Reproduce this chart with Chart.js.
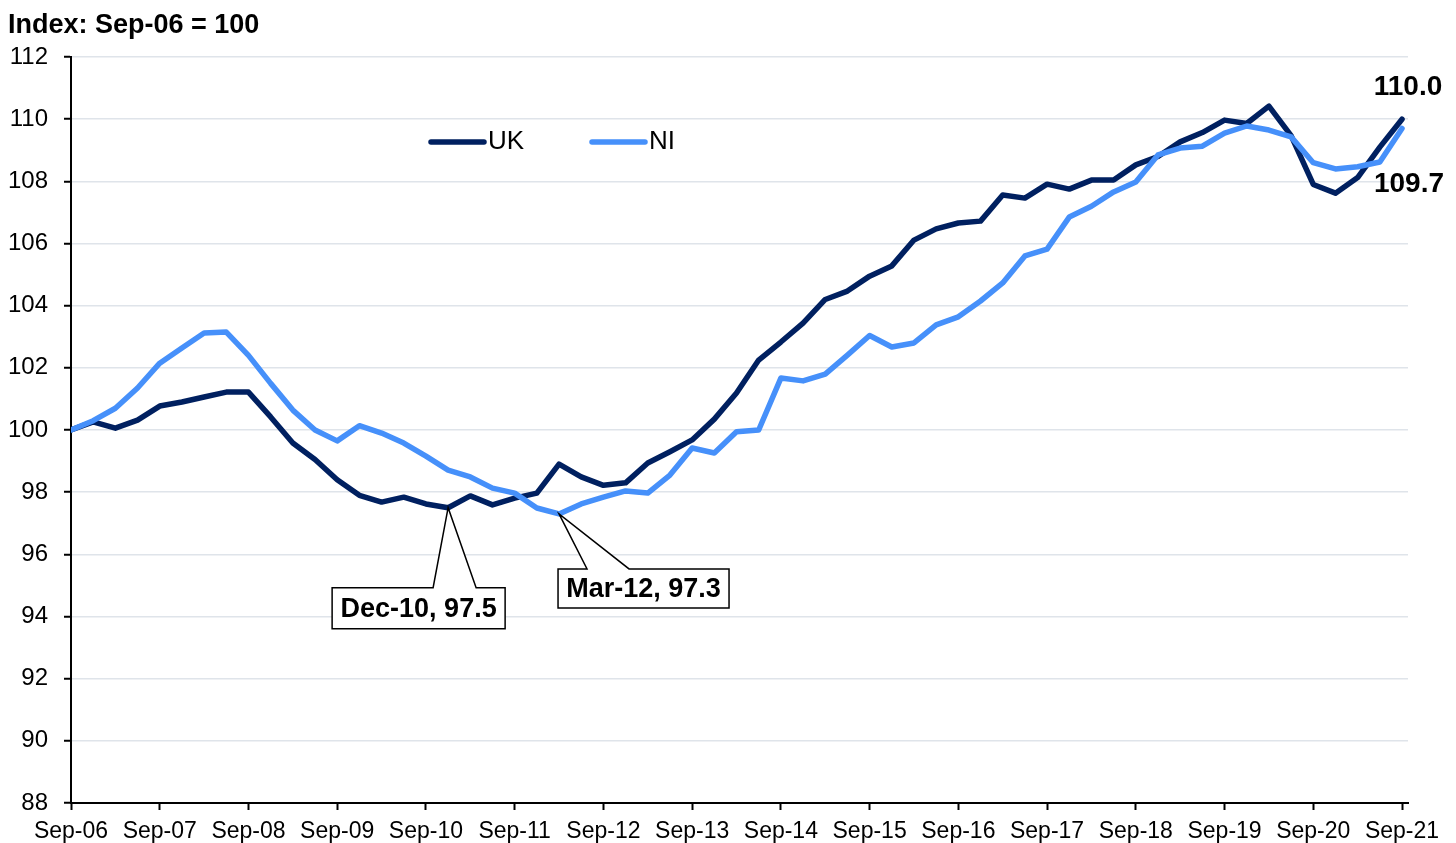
<!DOCTYPE html>
<html>
<head>
<meta charset="utf-8">
<script src="https://cdn.jsdelivr.net/npm/chart.js@4.4.1/dist/chart.umd.min.js"></script>
<style>
  html, body { margin: 0; padding: 0; background: #fff; }
  #wrap { width: 1456px; height: 843px; position: relative; }
</style>
</head>
<body>
<div id="wrap"><canvas id="myChart"></canvas></div>
<script>
// tick labels on the x axis, one per year (every 4th quarter)
var years = ['Sep-06', 'Sep-07', 'Sep-08', 'Sep-09', 'Sep-10', 'Sep-11', 'Sep-12', 'Sep-13',
             'Sep-14', 'Sep-15', 'Sep-16', 'Sep-17', 'Sep-18', 'Sep-19', 'Sep-20', 'Sep-21'];

// quarterly index, Sep-06 = 100
var ukIndex = [100.0, 100.26, 100.06, 100.32, 100.77, 100.9, 101.06, 101.22, 101.22, 100.42,
               99.58, 99.05, 98.4, 97.9, 97.68, 97.84, 97.62, 97.5, 97.88, 97.59,
               97.81, 97.97, 98.9, 98.49, 98.22, 98.3, 98.94, 99.3, 99.68, 100.35,
               101.19, 102.25, 102.83, 103.44, 104.2, 104.47, 104.95, 105.28, 106.11, 106.47,
               106.66, 106.72, 107.56, 107.46, 107.91, 107.75, 108.04, 108.04, 108.53, 108.8,
               109.27, 109.57, 109.97, 109.86, 110.42, 109.47, 107.9, 107.62, 108.12, 109.1,
               110.0];
var niIndex = [100.0, 100.3, 100.7, 101.35, 102.15, 102.64, 103.12, 103.15, 102.4, 101.5,
               100.64, 100.0, 99.65, 100.14, 99.9, 99.58, 99.16, 98.71, 98.49, 98.13,
               97.97, 97.49, 97.3, 97.62, 97.84, 98.04, 97.97, 98.55, 99.42, 99.26,
               99.94, 100.0, 101.67, 101.58, 101.8, 102.41, 103.04, 102.67, 102.8, 103.38,
               103.64, 104.15, 104.73, 105.6, 105.82, 106.85, 107.2, 107.66, 107.98, 108.85,
               109.07, 109.13, 109.55, 109.78, 109.65, 109.43, 108.6, 108.4, 108.47, 108.62,
               109.7];

var yTicks = [88, 90, 92, 94, 96, 98, 100, 102, 104, 106, 108, 110, 112];

var UK_COL = '#002060';
var NI_COL = '#4690fa';
var FONT = '"Liberation Sans", Arial, sans-serif';

function toPoints(arr) {
    return arr.map(function (v, i) { return { x: i, y: v }; });
}

// title, legend, end values and the two callouts
var extras = {
    id: 'extras',
    afterDraw: function (chart) {
        var ctx = chart.ctx;
        var xs = chart.scales.x, ys = chart.scales.y;
        ctx.save();

        ctx.fillStyle = '#000';
        ctx.textBaseline = 'middle';
        ctx.textAlign = 'left';
        ctx.font = 'bold 27px ' + FONT;
        ctx.fillText('Index: Sep-06 = 100', 8, 26);

        // legend
        ctx.lineCap = 'round';
        ctx.lineWidth = 5.5;
        [[UK_COL, 'UK', 431], [NI_COL, 'NI', 592]].forEach(function (l) {
            ctx.strokeStyle = l[0];
            ctx.beginPath();
            ctx.moveTo(l[2], 142);
            ctx.lineTo(l[2] + 53, 142);
            ctx.stroke();
            ctx.fillStyle = '#000';
            ctx.font = '26px ' + FONT;
            ctx.fillText(l[1], l[2] + 57, 142);
        });

        // end values
        var last = ukIndex.length - 1;
        var xe = xs.getPixelForValue(last);
        ctx.textAlign = 'center';
        ctx.font = 'bold 28px ' + FONT;
        ctx.fillText(ukIndex[last].toFixed(1), xe + 6, ys.getPixelForValue(ukIndex[last]) - 32);
        ctx.fillText(niIndex[last].toFixed(1), xe + 7, ys.getPixelForValue(niIndex[last]) + 56);

        // callouts
        function callout(i, v, text, box, tip) {
            var ax = xs.getPixelForValue(i), ay = ys.getPixelForValue(v);
            var l = ax + box[0], r = ax + box[1], t = ay + box[2], b = ay + box[3];
            ctx.beginPath();
            ctx.moveTo(l, t);
            ctx.lineTo(ax + tip[0], t);
            ctx.lineTo(ax, ay);
            ctx.lineTo(ax + tip[1], t);
            ctx.lineTo(r, t);
            ctx.lineTo(r, b);
            ctx.lineTo(l, b);
            ctx.closePath();
            ctx.fillStyle = '#fff';
            ctx.fill();
            ctx.lineWidth = 1.5;
            ctx.lineCap = 'butt';
            ctx.strokeStyle = '#000';
            ctx.stroke();
            ctx.fillStyle = '#000';
            ctx.font = 'bold 27px ' + FONT;
            ctx.fillText(text, (l + r) / 2, (t + b) / 2 + 1);
        }
        callout(17, ukIndex[17], 'Dec-10, 97.5', [-116, 57, 80, 121], [-15, 28]);
        callout(22, niIndex[22], 'Mar-12, 97.3', [-1, 170, 55, 94], [28, 70]);

        ctx.restore();
    }
};

var chartIndex = new Chart(document.getElementById('myChart'), {
    type: 'line',
    data: {
        datasets: [
            { label: 'NI', data: toPoints(niIndex), borderColor: NI_COL },
            { label: 'UK', data: toPoints(ukIndex), borderColor: UK_COL }
        ]
    },
    options: {
        responsive: true,
        maintainAspectRatio: false,
        animation: false,
        layout: { padding: { top: 57, right: 48, left: 0, bottom: 0 } },
        elements: {
            point: { radius: 0 },
            line: { borderWidth: 5.5, tension: 0, borderJoinStyle: 'round', borderCapStyle: 'round', fill: false }
        },
        plugins: {
            legend: { display: false },
            tooltip: { enabled: false }
        },
        scales: {
            x: {
                type: 'linear',
                min: 0,
                max: 60.27,
                afterBuildTicks: function (s) {
                    s.ticks = years.map(function (_, k) { return { value: k * 4 }; });
                },
                afterFit: function (s) { s.height = 40; },
                ticks: {
                    autoSkip: false,
                    maxRotation: 0,
                    padding: 8,
                    color: '#000',
                    font: { family: FONT, size: 23 },
                    callback: function (v) { return years[v / 4]; }
                },
                grid: { drawOnChartArea: false, tickLength: 7, tickColor: '#000', tickWidth: 2 },
                border: { color: '#000', width: 2 }
            },
            y: {
                min: 88,
                max: 112,
                afterBuildTicks: function (s) {
                    s.ticks = yTicks.map(function (v) { return { value: v }; });
                },
                afterFit: function (s) { s.width = 71; },
                ticks: {
                    padding: 16,
                    color: '#000',
                    font: { family: FONT, size: 24 }
                },
                grid: { color: '#dfe4ea', lineWidth: 1.5, tickLength: 7, tickColor: '#000', tickWidth: 2 },
                border: { color: '#000', width: 2 }
            }
        }
    },
    plugins: [extras]
});
</script>
</body>
</html>
